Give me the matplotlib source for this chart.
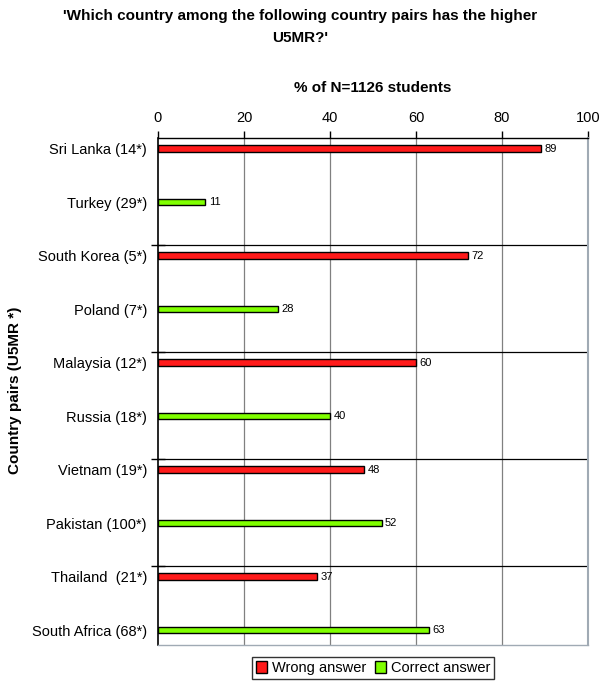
import matplotlib
matplotlib.use("Agg")
import matplotlib.pyplot as plt
from matplotlib.patches import Patch

categories = ["Sri Lanka (14*)", "Turkey (29*)", "South Korea (5*)", "Poland (7*)",
              "Malaysia (12*)", "Russia (18*)", "Vietnam (19*)", "Pakistan (100*)",
              "Thailand  (21*)", "South Africa (68*)"]
values = [89, 11, 72, 28, 60, 40, 48, 52, 37, 63]
answer_type = ["Wrong", "Correct", "Wrong", "Correct", "Wrong", "Correct",
               "Wrong", "Correct", "Wrong", "Correct"]
xticks = [0, 20, 40, 60, 80, 100]

colors = {"Wrong": "#ff1a1a", "Correct": "#80ff00"}

plt.rcParams['font.family'] = ['Liberation Sans', 'DejaVu Sans']

fig = plt.figure(figsize=(6.0, 6.82), dpi=100)
ax = fig.add_axes([158/600, 1-645/682, 430/600, (645-138)/682])

ypos = list(range(len(categories)))
ax.barh(ypos, values, height=0.12, color=[colors[a] for a in answer_type],
        edgecolor="black", linewidth=1.0, zorder=3)
for y, v in zip(ypos, values):
    ax.text(v + 0.8, y, str(v), va="center", ha="left", fontsize=8, zorder=4)

ax.set_xlim(0, 100)
ax.set_ylim(9.28, -0.2)
ax.set_xticks(xticks)
ax.xaxis.tick_top()
ax.xaxis.set_label_position("top")
ax.tick_params(axis="x", labelsize=10.5, length=5, width=1, pad=4)
ax.set_xlabel("% of N=1126 students", fontsize=11, fontweight="bold", labelpad=14)

ax.set_yticks(ypos)
ax.set_yticklabels(categories, fontsize=10.5)
ax.tick_params(axis="y", length=0, pad=8)
seps = [1.8, 3.8, 5.8, 7.8]
ax.set_yticks(seps, minor=True)
ax.tick_params(axis="y", which="minor", length=10, width=1, direction="inout")

for x in xticks[1:-1]:
    ax.axvline(x, color="#808080", linewidth=0.9, zorder=1)
for s in seps:
    ax.axhline(s, color="black", linewidth=0.9, zorder=2)

ax.spines["left"].set_color("black")
ax.spines["left"].set_linewidth(1.2)
ax.spines["top"].set_color("black")
ax.spines["top"].set_linewidth(1.0)
ax.spines["right"].set_color("#a0aab4")
ax.spines["right"].set_linewidth(1.5)
ax.spines["bottom"].set_color("#a0aab4")
ax.spines["bottom"].set_linewidth(1.0)

fig.text(15/600, 1-390/682, "Country pairs (U5MR *)", rotation=90, ha="center", va="center",
         fontsize=11, fontweight="bold")

fig.text(0.5, 1-16/682, "'Which country among the following country pairs has the higher",
         ha="center", va="center", fontsize=11, fontweight="bold")
fig.text(0.5, 1-38/682, "U5MR?'", ha="center", va="center", fontsize=11, fontweight="bold")

handles = [Patch(facecolor=colors["Wrong"], edgecolor="black", label="Wrong answer"),
           Patch(facecolor=colors["Correct"], edgecolor="black", label="Correct answer")]
leg = fig.legend(handles=handles, loc="center", bbox_to_anchor=(373/600, 1-668/682),
                 ncol=2, fontsize=10.5, frameon=True, fancybox=False, edgecolor="black",
                 handlelength=0.8, handleheight=0.8, handletextpad=0.3, columnspacing=0.6,
                 borderpad=0.25, borderaxespad=0)
leg.get_frame().set_linewidth(1.0)

fig.savefig("out.png", dpi=100)
